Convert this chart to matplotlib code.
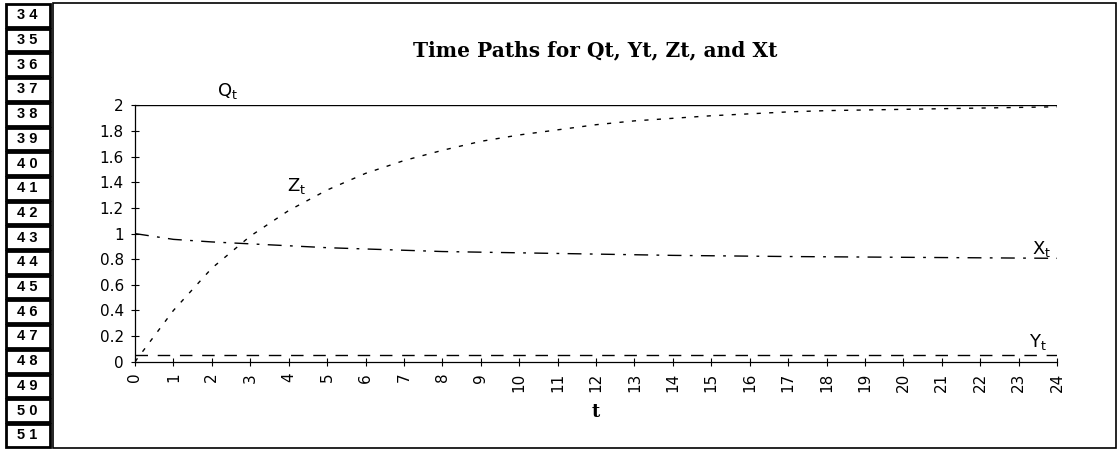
import matplotlib
matplotlib.use('Agg')
import matplotlib.pyplot as plt
from matplotlib.patches import Rectangle

# time periods and the four paths
t = list(range(25))
q_t = [2.0, 2.0, 2.0, 2.0, 2.0, 2.0, 2.0, 2.0, 2.0, 2.0, 2.0, 2.0, 2.0,
       2.0, 2.0, 2.0, 2.0, 2.0, 2.0, 2.0, 2.0, 2.0, 2.0, 2.0, 2.0]
y_t = [0.05, 0.05, 0.05, 0.05, 0.05, 0.05, 0.05, 0.05, 0.05, 0.05, 0.05, 0.05, 0.05,
       0.05, 0.05, 0.05, 0.05, 0.05, 0.05, 0.05, 0.05, 0.05, 0.05, 0.05, 0.05]
z_t = [0.0, 0.40, 0.73, 0.98, 1.18, 1.34, 1.47, 1.57, 1.65, 1.72, 1.77, 1.81, 1.85,
       1.88, 1.90, 1.92, 1.935, 1.95, 1.96, 1.965, 1.97, 1.975, 1.98, 1.985, 1.99]
x_t = [1.0, 0.955, 0.935, 0.92, 0.905, 0.89, 0.88, 0.87, 0.86, 0.855, 0.85, 0.845, 0.84,
       0.835, 0.83, 0.827, 0.824, 0.821, 0.819, 0.817, 0.815, 0.813, 0.811, 0.809, 0.807]
y_ticks = [0, 0.2, 0.4, 0.6, 0.8, 1, 1.2, 1.4, 1.6, 1.8, 2]
y_tick_labels = ['0', '0.2', '0.4', '0.6', '0.8', '1', '1.2', '1.4', '1.6', '1.8', '2']
row_numbers = list(range(34, 52))

W, H = 1118, 450
plt.rcParams['font.family'] = ['DejaVu Sans']
fig = plt.figure(figsize=(W / 100, H / 100), dpi=100)

# spreadsheet row headers on the left
pitch = 24.7
for i, n in enumerate(row_numbers):
    top = 3 + i * pitch
    fig.add_artist(Rectangle((6 / W, 1 - (top + pitch - 1) / H), 44 / W, (pitch - 2) / H,
                             transform=fig.transFigure, facecolor='white',
                             edgecolor='black', linewidth=2.0))
    fig.text(27 / W, 1 - (top + pitch / 2) / H, ' '.join(str(n)), ha='center', va='center',
             fontsize=10.5, fontweight='bold', family='Liberation Sans')

# chart frame
fig.add_artist(Rectangle((53 / W, 1 - 448 / H), (1116 - 53) / W, 445 / H,
                         transform=fig.transFigure, facecolor='none',
                         edgecolor='black', linewidth=1.2))

ax = fig.add_axes([135 / W, 1 - 361.7 / H, (1057 - 135) / W, (361.7 - 105.5) / H])
ax.patch.set_alpha(0)

ax.plot(t, q_t, color='black', linewidth=1.0)
ax.plot(t, y_t, color='black', linewidth=1.0, dashes=(9, 7))
ax.plot(t, z_t, color='black', linewidth=1.0, dashes=(3, 6))
ax.plot(t, x_t, color='black', linewidth=1.0, dashes=(10, 6, 2, 6))

ax.set_xlim(0, 24)
ax.set_ylim(0, 2)
ax.set_xticks(t)
ax.set_xticklabels([str(v) for v in t], rotation=90, fontsize=11)
ax.set_yticks(y_ticks)
ax.set_yticklabels(y_tick_labels, fontsize=11)
ax.tick_params(direction='inout', length=6, width=0.8, pad=5)
for s in ['top', 'right']:
    ax.spines[s].set_visible(False)
for s in ['left', 'bottom']:
    ax.spines[s].set_linewidth(0.9)

# series labels
ax.text(2.4, 2.11, r'$\mathregular{Q_t}$', fontsize=13, ha='center', va='center')
ax.text(4.2, 1.37, r'$\mathregular{Z_t}$', fontsize=13, ha='center', va='center')
ax.text(23.6, 0.88, r'$\mathregular{X_t}$', fontsize=13, ha='center', va='center')
ax.text(23.5, 0.15, r'$\mathregular{Y_t}$', fontsize=13, ha='center', va='center')

fig.text(595.5 / W, 1 - 50 / H, 'Time Paths for Qt, Yt, Zt, and Xt', ha='center', va='center',
         fontsize=14.5, fontweight='bold', family='DejaVu Serif')
fig.text(596 / W, 1 - 412 / H, 't', ha='center', va='center',
         fontsize=13, fontweight='bold', family='DejaVu Serif')

fig.savefig('out.png', dpi=100)
